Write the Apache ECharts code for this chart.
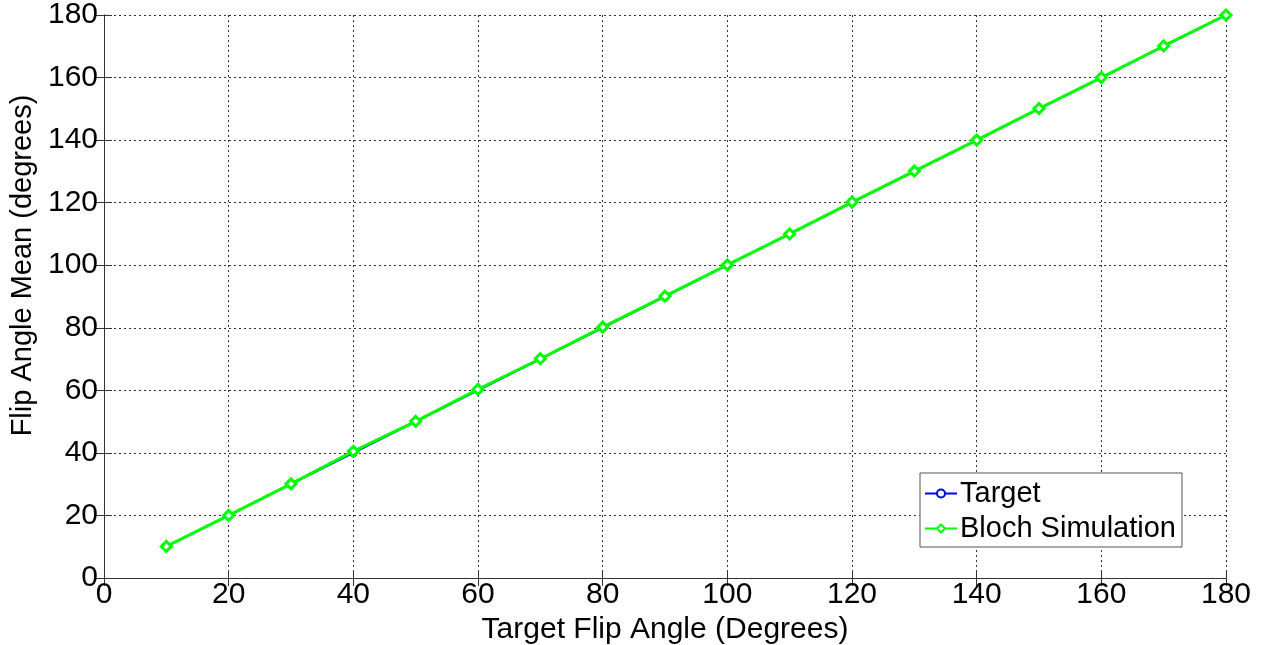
<!DOCTYPE html>
<html>
<head>
<meta charset="utf-8">
<script src="https://cdn.jsdelivr.net/npm/echarts@6/dist/echarts.min.js"></script>
<style>
  html, body { margin: 0; padding: 0; background: #fff; }
  #chart { width: 1262px; height: 645px; }
</style>
</head>
<body>
<div id="chart"></div>
<script>
  // target angles and the simulated mean flip angle
  var angles = [10, 20, 30, 40, 50, 60, 70, 80, 90, 100, 110, 120, 130, 140, 150, 160, 170, 180];
  var target = [10, 20, 30, 40, 50, 60, 70, 80, 90, 100, 110, 120, 130, 140, 150, 160, 170, 180];
  var bloch = [10.1, 20.0, 30.1, 40.5, 50.1, 60.3, 70.1, 80.2, 90.1, 100.1, 110.0, 120.2, 130.1, 140.0, 150.1, 160.0, 170.1, 180.0];

  function pairs(xs, ys) {
    var out = [];
    for (var i = 0; i < xs.length; i++) { out.push([xs[i], ys[i]]); }
    return out;
  }

  var myChart = echarts.init(document.getElementById('chart'));
  var font = 'Liberation Sans, Arial, sans-serif';
  var gridLine = { show: true, lineStyle: { color: '#333', type: [2, 3], width: 1 } };

  var option = {
    animation: false,
    grid: { left: 104, top: 15, right: 36, bottom: 67, outerBoundsMode: 'none' },
    legend: {
      left: 920, top: 473, orient: 'vertical',
      itemWidth: 32, itemHeight: 10, itemGap: 6,
      padding: [6, 6, 4, 4],
      backgroundColor: '#fff',
      borderColor: '#555', borderWidth: 1,
      textStyle: { fontFamily: font, fontSize: 29, color: '#000', padding: [0, 0, 0, -2] },
      data: ['Target', 'Bloch Simulation']
    },
    xAxis: [
      {
        type: 'value', min: 0, max: 180, interval: 20,
        name: 'Target Flip Angle (Degrees)', nameLocation: 'middle', nameGap: 30,
        nameTextStyle: { fontFamily: font, fontSize: 30, color: '#000' },
        axisLine: { lineStyle: { color: '#333', width: 1 } },
        axisTick: { inside: true, length: 8, lineStyle: { color: '#333' } },
        axisLabel: { fontFamily: font, fontSize: 30, color: '#000', margin: 2 },
        splitLine: gridLine
      },
      {
        type: 'value', min: 0, max: 180, interval: 20, position: 'top',
        axisLine: { show: true, lineStyle: { color: '#333', width: 1 } },
        axisTick: { inside: true, length: 8, lineStyle: { color: '#333' } },
        axisLabel: { show: false }, splitLine: { show: false }
      }
    ],
    yAxis: [
      {
        type: 'value', min: 0, max: 180, interval: 20,
        name: 'Flip Angle Mean (degrees)', nameLocation: 'middle', nameGap: 61,
        nameTextStyle: { fontFamily: font, fontSize: 29, color: '#000', padding: [0, 0, 0, 62] },
        axisLine: { show: true, lineStyle: { color: '#333', width: 1 } },
        axisTick: { show: true, inside: true, length: 8, lineStyle: { color: '#333' } },
        axisLabel: { fontFamily: font, fontSize: 30, color: '#000', margin: 6 },
        splitLine: gridLine
      },
      {
        type: 'value', min: 0, max: 180, interval: 20, position: 'right',
        axisLine: { show: true, lineStyle: { color: '#333', width: 1 } },
        axisTick: { show: true, inside: true, length: 8, lineStyle: { color: '#333' } },
        axisLabel: { show: false }, splitLine: { show: false }
      }
    ],
    series: [
      {
        name: 'Target', type: 'line', data: pairs(angles, target),
        symbol: 'circle', symbolSize: 6,
        lineStyle: { color: '#0000ff', width: 2 },
        itemStyle: { color: '#fff', borderColor: '#0000ff', borderWidth: 2 },
        color: '#0000ff'
      },
      {
        name: 'Bloch Simulation', type: 'line', data: pairs(angles, bloch),
        symbol: 'diamond', symbolSize: 10,
        lineStyle: { color: '#00ff00', width: 3 },
        itemStyle: { color: '#fff', borderColor: '#00ff00', borderWidth: 3 },
        color: '#00ff00'
      }
    ]
  };

  myChart.setOption(option);
</script>
</body>
</html>
